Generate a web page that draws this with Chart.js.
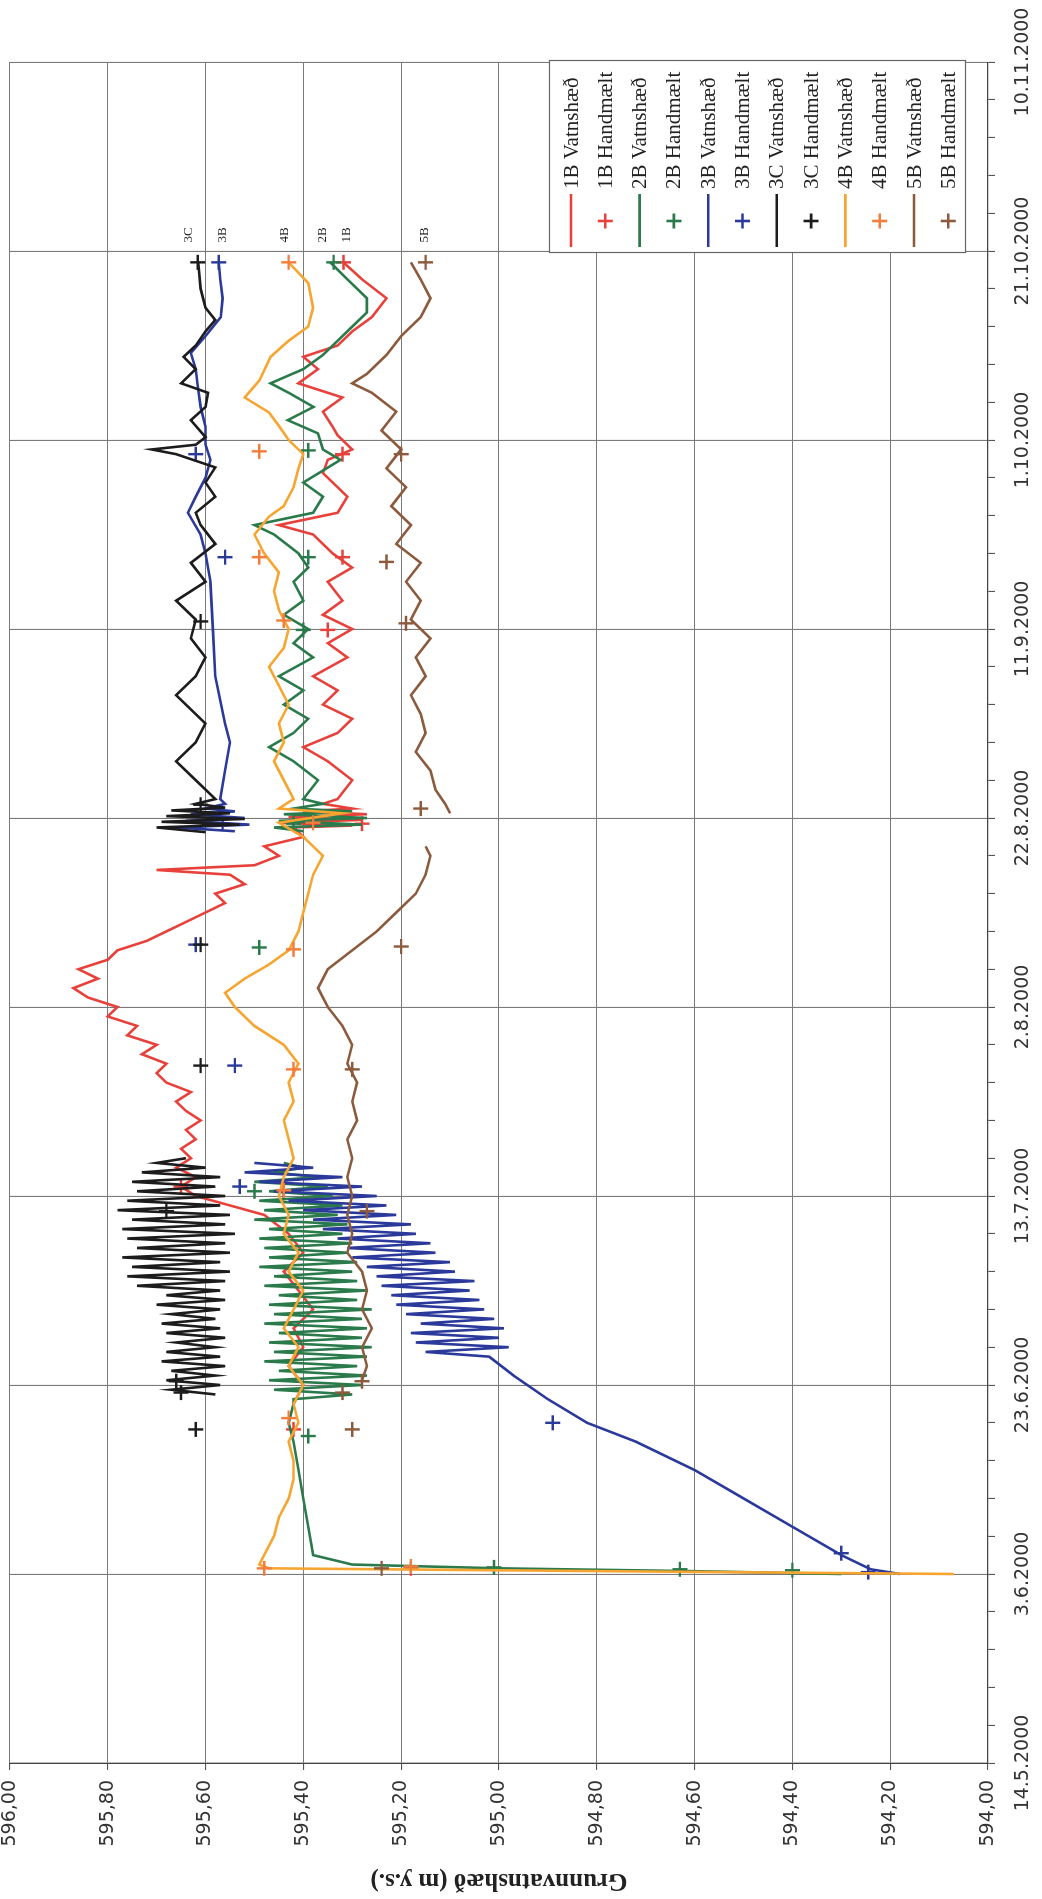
<!DOCTYPE html>
<html><head><meta charset="utf-8">
<script src="https://cdn.jsdelivr.net/npm/chart.js@4.4.1/dist/chart.umd.min.js"></script>
<style>
html,body{margin:0;padding:0;background:#fff;overflow:hidden;width:1042px;height:1899px;}
#wrap{position:absolute;left:0;top:0;width:1899px;height:1042px;transform-origin:0 0;transform:translate(0px,1899px) rotate(-90deg);background:#fff;}
</style></head><body>
<div id="wrap"><canvas id="c" width="1899" height="1042"></canvas></div>
<script>
// Day 0 = 14.5.2000
const dateTickLabels = ['14.5.2000','3.6.2000','23.6.2000','13.7.2000','2.8.2000','22.8.2000','11.9.2000','1.10.2000','21.10.2000','10.11.2000'];
const yTitle = 'Grunnvatnshæð (m y.s.)';
const seriesNames = ['1B Vatnshæð','1B Handmælt','2B Vatnshæð','2B Handmælt','3B Vatnshæð','3B Handmælt','3C Vatnshæð','3C Handmælt','4B Vatnshæð','4B Handmælt','5B Vatnshæð','5B Handmælt'];
const endLabels = ['3C','3B','4B','2B','1B','5B'];
const endLabelValues = [595.634,595.565,595.438,595.361,595.312,595.152];

// [day, value]
const v1B = [[38,595.42],[40,595.40],[42,595.43],[44,595.40],[46,595.42],[48,595.38],[50,595.41],[52,595.44],[54,595.40],[56,595.43],[58,595.48],[59,595.55],[60,595.62],[61,595.65],[62,595.62],[63,595.66],[64,595.63],[65,595.65],[66,595.62],[67,595.64],[68,595.61],[69,595.64],[70,595.66],[71,595.63],[72,595.68],[73,595.70],[74,595.68],[75,595.73],[76,595.70],[77,595.76],[78,595.74],[79,595.80],[80,595.78],[81,595.84],[82,595.87],[83,595.82],[84,595.86],[85,595.80],[86,595.78],[87,595.72],[88,595.68],[89,595.64],[90,595.60],[91,595.56],[92,595.58],[93,595.52],[94,595.55],[94.5,595.70],[95,595.50],[96,595.45],[97,595.48],[98,595.40],[99,595.42],[99.2,595.30],[99.5,595.45],[99.8,595.28],[100.1,595.43],[100.4,595.27],[100.7,595.40],[101,595.30],[101.5,595.36],[102,595.33],[104,595.30],[106,595.35],[107.5,595.40],[109,595.33],[110.5,595.30],[112,595.36],[113.5,595.33],[115,595.38],[117,595.31],[118.5,595.35],[120,595.30],[121.5,595.36],[123,595.32],[125,595.35],[126.5,595.30],[128,595.34],[130,595.38],[131,595.45],[132.3,595.33],[134,595.31],[135,595.33],[136.5,595.36],[137.9,595.35],[139,595.30],[140.5,595.33],[141.4,595.34],[143,595.36],[144.5,595.32],[146,595.41],[147.5,595.37],[148.8,595.40],[150,595.33],[151.5,595.30],[153,595.26],[155,595.23],[157,595.28],[158.8,595.318]];
const m1B = [[20.6,595.18],[35.3,595.42],[61,595.65],[99.4,595.28],[119.9,595.35],[127.6,595.32],[138.5,595.32],[158.8,595.318]];

const v2B = [[20.0,594.30],[20.3,594.60],[20.6,595.00],[21.0,595.30],[22,595.38],[25,595.39],[28,595.40],[31,595.41],[34,595.42],[36,595.43],[38,595.42],[38.5,595.42],[39,595.30],[39.5,595.46],[40,595.28],[40.5,595.47],[41,595.27],[41.5,595.45],[42,595.29],[42.5,595.48],[43,595.27],[43.5,595.46],[44,595.26],[44.5,595.47],[45,595.28],[45.5,595.45],[46,595.27],[46.5,595.48],[47,595.28],[47.5,595.46],[48,595.26],[48.5,595.47],[49,595.29],[49.5,595.45],[50,595.27],[50.5,595.48],[51,595.29],[51.5,595.46],[52,595.30],[52.5,595.49],[53,595.29],[53.5,595.47],[54,595.31],[54.5,595.48],[55,595.30],[55.5,595.49],[56,595.32],[56.5,595.47],[57,595.31],[57.5,595.50],[58,595.33],[58.5,595.48],[59,595.32],[59.5,595.49],[60,595.34],[60.5,595.47],[61,595.35],[61.5,595.50],[62,595.37],[62.5,595.46],[63,595.40],[63.5,595.44],[64,null],[98.6,595.40],[99,595.46],[99.3,595.28],[99.7,595.45],[100,595.27],[100.4,595.44],[100.7,595.30],[101,595.42],[101.5,595.36],[102,595.40],[104,595.37],[106,595.42],[107.5,595.47],[109,595.42],[110.5,595.39],[112,595.44],[113.5,595.40],[115,595.45],[117,595.38],[118.5,595.42],[120,595.39],[121.5,595.44],[123,595.40],[125,595.42],[126.5,595.39],[128,595.41],[130,595.46],[131,595.50],[132.3,595.38],[134,595.36],[135.5,595.40],[137.9,595.324],[139,595.36],[140.7,595.37],[142.1,595.432],[143.5,595.379],[145,595.43],[146,595.467],[147.5,595.40],[149,595.36],[150.5,595.33],[152,595.30],[153.5,595.27],[155,595.27],[157,595.31],[158.8,595.345]];
const m2B = [[20.4,594.40],[20.5,594.63],[20.7,595.01],[34.6,595.39],[60.5,595.50],[86.3,595.49],[99.4,595.42],[119.9,595.40],[127.6,595.39],[138.9,595.39],[158.8,595.338]];

const v3B = [[20.0,594.18],[20.5,594.24],[22,594.30],[25,594.40],[28,594.50],[31,594.60],[34,594.72],[36,594.82],[38.5,594.90],[41,594.97],[43,595.02],[43.5,595.15],[44,594.98],[44.5,595.17],[45,595.00],[45.5,595.18],[46,594.99],[46.5,595.16],[47,595.01],[47.5,595.19],[48,595.03],[48.5,595.21],[49,595.04],[49.5,595.22],[50,595.06],[50.5,595.24],[51,595.05],[51.5,595.25],[52,595.09],[52.5,595.27],[53,595.10],[53.5,595.30],[54,595.13],[54.5,595.31],[55,595.14],[55.5,595.33],[56,595.17],[56.5,595.36],[57,595.18],[57.5,595.38],[58,595.21],[58.5,595.40],[59,595.23],[59.5,595.43],[60,595.25],[60.5,595.46],[61,595.28],[61.5,595.49],[62,595.32],[62.5,595.52],[63,595.38],[63.5,595.50],[64,null],[98.6,595.54],[99,595.66],[99.3,595.51],[99.7,595.64],[100,595.52],[100.4,595.63],[100.7,595.54],[101,595.60],[101.5,595.56],[102,595.57],[105,595.56],[108,595.55],[110,595.56],[115,595.58],[120,595.585],[125,595.59],[128,595.60],[130,595.61],[132.3,595.636],[134,595.62],[136,595.60],[137.9,595.59],[139.5,595.60],[141.4,595.60],[143.5,595.61],[145.7,595.616],[147.5,595.62],[149.2,595.63],[151,595.60],[153,595.569],[155,595.565],[157,595.57],[158.8,595.573]];
const m3B = [[20.2,594.245],[22.2,594.30],[36,594.89],[60.6,595.44],[61,595.53],[73.8,595.54],[86.6,595.62],[99.4,595.565],[127.6,595.56],[138.5,595.62],[158.8,595.573]];

const v3C = [[39,595.58],[39.5,595.67],[40,595.57],[40.5,595.68],[41,595.58],[41.5,595.67],[42,595.56],[42.5,595.69],[43,595.57],[43.5,595.68],[44,595.58],[44.5,595.66],[45,595.56],[45.5,595.68],[46,595.57],[46.5,595.69],[47,595.58],[47.5,595.67],[48,595.57],[48.5,595.70],[49,595.56],[49.5,595.68],[50,595.57],[50.5,595.74],[51,595.56],[51.5,595.76],[52,595.55],[52.5,595.75],[53,595.57],[53.5,595.77],[54,595.55],[54.5,595.74],[55,595.56],[55.5,595.76],[56,595.54],[56.5,595.77],[57,595.56],[57.5,595.75],[58,595.55],[58.5,595.78],[59,595.57],[59.5,595.76],[60,595.56],[60.5,595.74],[61,595.58],[61.5,595.75],[62,595.57],[62.5,595.73],[63,595.60],[63.5,595.70],[64,595.64],[64.5,null],[98.5,595.60],[99,595.70],[99.3,595.53],[99.6,595.69],[99.9,595.52],[100.2,595.68],[100.5,595.55],[100.8,595.67],[101.1,595.56],[101.5,595.62],[102,595.58],[104,595.62],[106,595.66],[108,595.62],[110,595.60],[112,595.64],[113,595.66],[115,595.62],[117,595.60],[119,595.63],[121,595.62],[123,595.66],[125,595.60],[127,595.63],[129,595.58],[131,595.61],[132.3,595.62],[134,595.58],[135.5,595.60],[137.1,595.58],[138.5,595.66],[139,595.71],[139.5,595.62],[140.3,595.60],[142.1,595.63],[143.5,595.60],[145,595.595],[146,595.65],[147.5,595.62],[148.8,595.645],[150,595.62],[151.5,595.60],[152.7,595.58],[154,595.60],[156,595.61],[158.8,595.615]];
const m3C = [[35.3,595.62],[39.2,595.65],[40.4,595.66],[58.4,595.68],[73.8,595.61],[86.6,595.61],[101.4,595.61],[120.8,595.61],[158.8,595.616]];

const v4B = [[20.0,594.07],[20.3,594.78],[20.6,595.47],[21,595.49],[22,595.48],[24,595.46],[26,595.45],[28,595.43],[30,595.42],[32,595.42],[34,595.43],[36,595.41],[38,595.42],[40,595.40],[42,595.43],[44,595.41],[46,595.44],[48,595.42],[50,595.40],[52,595.43],[54,595.41],[56,595.44],[58,595.43],[60,595.45],[62,595.44],[64,595.42],[66,595.43],[68,595.44],[70,595.42],[72,595.43],[74,595.41],[76,595.44],[78,595.50],[80,595.54],[81.5,595.56],[83,595.52],[84.5,595.47],[86,595.43],[88,595.41],[90,595.40],[92,595.39],[94,595.38],[96,595.36],[97,595.38],[98,595.40],[99.5,595.45],[100.5,595.32],[101,595.45],[102,595.42],[104,595.44],[106,595.46],[108,595.44],[110,595.45],[112,595.43],[114,595.45],[116,595.47],[118,595.44],[120,595.43],[122,595.45],[124,595.46],[126,595.45],[128,595.48],[130,595.50],[131.9,595.47],[133,595.44],[135,595.42],[137,595.41],[138.5,595.40],[140,595.43],[141.5,595.45],[142.9,595.47],[144.5,595.52],[146.3,595.49],[148.8,595.467],[150.5,595.43],[152,595.39],[154,595.38],[156.6,595.39],[158.8,595.43]];
const m4B = [[20.6,595.48],[20.8,595.18],[36.5,595.43],[60.6,595.44],[73.4,595.42],[86.1,595.42],[99.5,595.38],[120.9,595.44],[127.6,595.49],[138.8,595.49],[158.8,595.43]];

const v5B = [[40.5,595.28],[42,595.27],[44,595.28],[46,595.26],[48,595.28],[50,595.27],[52,595.28],[54,595.31],[56,595.30],[58,595.31],[60,595.30],[62,595.31],[64,595.30],[66,595.31],[68,595.29],[70,595.30],[72,595.29],[74,595.31],[76,595.30],[78,595.32],[80,595.35],[82,595.37],[84,595.35],[86,595.30],[88,595.25],[90,595.21],[92,595.17],[94,595.15],[96,595.14],[97,595.15],[98,null],[100.5,595.10],[101.5,595.11],[103,595.13],[105,595.14],[107,595.17],[109,595.15],[111,595.16],[113,595.18],[115,595.15],[117,595.17],[119,595.14],[121,595.18],[123,595.16],[125,595.19],[127,595.16],[129,595.21],[131,595.18],[133,595.22],[135,595.19],[137,595.23],[139,595.20],[141,595.24],[143,595.21],[145,595.26],[146,595.30],[147,595.27],[149,595.23],[151,595.20],[153,595.16],[155,595.14],[157,595.16],[158.8,595.18]];
const m5B = [[20.6,595.24],[35.3,595.30],[39.2,595.32],[40.4,595.28],[58.4,595.27],[73.4,595.30],[86.4,595.20],[101,595.16],[120.6,595.19],[127.1,595.23],[138.5,595.20],[158.8,595.15]];

const colors = {
  '1B':'#e8413b', '2B':'#2a7a4b', '3B':'#2b3a9a', '3C':'#1c1c1c', '4B':'#f7a531', '4Bm':'#f47c3c', '5B':'#8c5a3c'
};

const toPts = arr => arr.map(p => ({x:p[0], y:p[1]}));
function lineDs(label, arr, color, order){
  return {label, data: toPts(arr), showLine:true, borderColor:color, backgroundColor:color, borderWidth:2.6, pointRadius:0, pointHoverRadius:0, tension:0, spanGaps:false, order};
}
function markDs(label, arr, color, order){
  return {label, data: toPts(arr), showLine:false, borderColor:color, backgroundColor:color, pointStyle:'cross', pointRadius:7.5, pointBorderWidth:2.4, borderWidth:2.4, order};
}
const datasets = [
  lineDs(seriesNames[0], v1B, colors['1B'], 100),
  markDs(seriesNames[1], m1B, colors['1B'], 99),
  lineDs(seriesNames[2], v2B, colors['2B'], 98),
  markDs(seriesNames[3], m2B, colors['2B'], 97),
  lineDs(seriesNames[4], v3B, colors['3B'], 96),
  markDs(seriesNames[5], m3B, colors['3B'], 95),
  lineDs(seriesNames[6], v3C, colors['3C'], 94),
  markDs(seriesNames[7], m3C, colors['3C'], 93),
  lineDs(seriesNames[8], v4B, colors['4B'], 92),
  markDs(seriesNames[9], m4B, colors['4Bm'], 91),
  lineDs(seriesNames[10], v5B, colors['5B'], 90),
  markDs(seriesNames[11], m5B, colors['5B'], 89)
];

const boxLegend = {
  id:'boxLegend',
  afterDraw(chart){
    const ctx = chart.ctx, a = chart.chartArea;
    const w = 192, h = 416;
    const right = a.right + 1, bottom = a.bottom - 23;
    const left = right - w, top = bottom - h;
    ctx.save();
    ctx.fillStyle = '#fff';
    ctx.fillRect(left, top, w, h);
    ctx.strokeStyle = '#666'; ctx.lineWidth = 1.2;
    ctx.strokeRect(left + 0.5, top + 0.5, w, h);
    ctx.font = '21px "Liberation Serif", "Times New Roman", serif';
    ctx.textBaseline = 'middle'; ctx.textAlign = 'left';
    chart.data.datasets.forEach((ds, i) => {
      const cy = top + 22 + i * 34.3;
      ctx.strokeStyle = ds.borderColor; ctx.lineWidth = 2.6;
      ctx.beginPath();
      if (ds.showLine) {
        ctx.moveTo(left + 6, cy); ctx.lineTo(left + 59, cy);
      } else {
        const cx = left + 32;
        ctx.moveTo(cx - 7.5, cy); ctx.lineTo(cx + 7.5, cy);
        ctx.moveTo(cx, cy - 7.5); ctx.lineTo(cx, cy + 7.5);
      }
      ctx.stroke();
      ctx.fillStyle = '#222';
      ctx.fillText(ds.label, left + 64, cy + 1);
    });
    ctx.restore();
  }
};

const endLabelPlugin = {
  id:'endLabels',
  afterDatasetsDraw(chart){
    const ctx = chart.ctx, xs = chart.scales.x, ys = chart.scales.y;
    ctx.save();
    ctx.font = '13px "Liberation Serif", "Times New Roman", serif';
    ctx.fillStyle = '#222'; ctx.textAlign = 'center'; ctx.textBaseline = 'middle';
    endLabels.forEach((t, i) => {
      ctx.fillText(t, xs.getPixelForValue(161.7), ys.getPixelForValue(endLabelValues[i]));
    });
    ctx.restore();
  }
};

new Chart(document.getElementById('c'), {
  type:'scatter',
  data:{datasets},
  options:{
    responsive:false, animation:false, devicePixelRatio:1,
    layout:{padding:{top:9, right:62, left:0, bottom:0}},
    plugins:{legend:{display:false}, tooltip:{enabled:false}},
    scales:{
      x:{
        type:'linear', position:'bottom', min:0, max:180,
        afterFit(s){ s.height = 54; s.paddingLeft = 0; s.paddingRight = 0; },
        ticks:{stepSize:4, autoSkip:false, maxRotation:0, minRotation:0, padding:17,
          color:'#333', font:{family:'"DejaVu Sans", sans-serif', size:19},
          callback:(v) => (Math.round(v) % 20 === 0) ? dateTickLabels[Math.round(v)/20] : ''},
        grid:{
          color:(c) => (c.tick && Math.round(c.tick.value) % 20 === 0) ? '#7a7a7a' : 'rgba(0,0,0,0)',
          tickColor:'#555', tickLength:7, lineWidth:1.1, drawTicks:true
        },
        border:{display:true, color:'#444', width:1.3}
      },
      y:{
        type:'linear', position:'left', min:594, max:596,
        afterFit(s){ s.width = 136; s.paddingTop = 0; s.paddingBottom = 0; },
        ticks:{stepSize:0.2, padding:10, color:'#333',
          font:{family:'"DejaVu Sans", sans-serif', size:19, lineHeight:1.0},
          callback:(v) => Number(v).toFixed(2).replace('.', ',')},
        grid:{color:'#7a7a7a', tickColor:'#555', tickLength:7, lineWidth:1.1},
        border:{display:true, color:'#444', width:1.3},
        title:{display:true, text:yTitle, color:'#222', padding:{top:4, bottom:0},
          font:{family:'"Liberation Serif", "Times New Roman", serif', size:25, weight:'bold'}}
      }
    }
  },
  plugins:[boxLegend, endLabelPlugin]
});
</script>
</body></html>
